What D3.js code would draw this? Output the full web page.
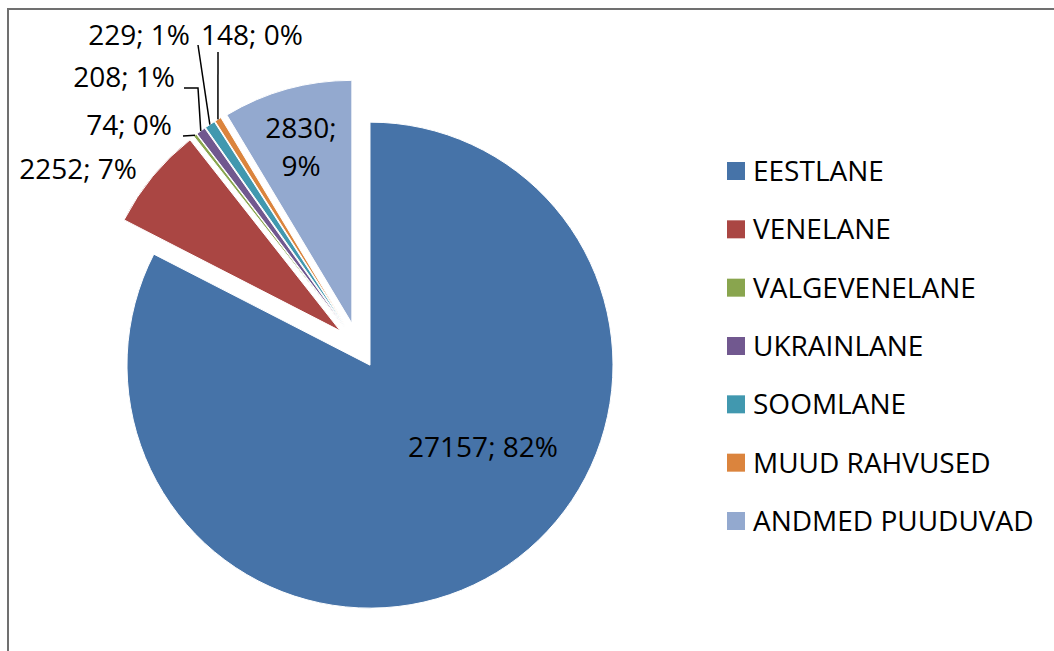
<!DOCTYPE html>
<html>
<head>
<meta charset="utf-8">
<script src="https://cdn.jsdelivr.net/npm/d3@7"></script>
<style>
  body { margin: 0; background: #fff; }
  svg { display: block; }
  text { font-family: "Open Sans", "Liberation Sans", sans-serif; fill: #000; }
</style>
</head>
<body>
<svg width="1054" height="651"></svg>
<script>
// data
var categories = ['EESTLANE', 'VENELANE', 'VALGEVENELANE', 'UKRAINLANE', 'SOOMLANE', 'MUUD RAHVUSED', 'ANDMED PUUDUVAD'];
var values = [27157, 2252, 74, 208, 229, 148, 2830];
var percents = ['82%', '7%', '0%', '1%', '1%', '0%', '9%'];
var colors = ['#4673a8', '#aa4643', '#89a54e', '#71588f', '#4198af', '#db843d', '#93a9cf'];

var svg = d3.select('svg');
svg.append('rect').attr('width', 1054).attr('height', 651).attr('fill', '#fff');

// frame (only top + left visible)
svg.append('path').attr('d', 'M8,660 L8,9 L1060,9')
  .attr('fill', 'none').attr('stroke', '#707070').attr('stroke-width', 2);

var cx = 358, cy = 345.5, radius = 243, explode = 23;

var pie = d3.pie().sort(null).value(function(d){ return d; });
var arcs = pie(values);
var arc = d3.arc().innerRadius(0).outerRadius(radius);

function offset(a, dist) {
  var m = (a.startAngle + a.endAngle) / 2;
  return [Math.sin(m) * dist, -Math.cos(m) * dist];
}

var g = svg.append('g').attr('transform', 'translate(' + cx + ',' + cy + ')');

g.selectAll('path.slice').data(arcs).enter().append('path')
  .attr('class', 'slice')
  .attr('d', arc)
  .attr('transform', function(d){ var o = offset(d, explode); return 'translate(' + o[0] + ',' + o[1] + ')'; })
  .attr('fill', function(d, i){ return colors[i]; })
  .attr('stroke', '#fff').attr('stroke-width', 1);

// labels: layout only (text anchor point + leader elbow), text comes from data
var labelLayout = [
  { x: 483, y: 457, anchor: 'middle' },
  { x: 137, y: 179, anchor: 'end' },
  { x: 172, y: 135, anchor: 'end', lead: [[183, 136]] },
  { x: 175, y: 87, anchor: 'end', lead: [[184, 88], [198, 88]] },
  { x: 190, y: 45, anchor: 'end', lead: [[198, 45]] },
  { x: 201, y: 45, anchor: 'start', lead: [[218, 52]] },
  { x: 301, y: 138, anchor: 'middle', split: true }
];

arcs.forEach(function(a, i) {
  var L = labelLayout[i];
  var txt = values[i] + '; ' + percents[i];
  if (L.split) {
    var t = svg.append('text').attr('x', L.x).attr('y', L.y).attr('text-anchor', L.anchor).attr('font-size', 28);
    t.append('tspan').attr('x', L.x).text(values[i] + ';');
    t.append('tspan').attr('x', L.x).attr('dy', 38).text(percents[i]);
  } else {
    svg.append('text').attr('x', L.x).attr('y', L.y).attr('text-anchor', L.anchor)
      .attr('font-size', 28).text(txt);
  }
  if (L.lead) {
    var o = offset(a, explode + radius);
    var pts = L.lead.concat([[cx + o[0], cy + o[1]]]);
    svg.append('path').attr('d', d3.line()(pts))
      .attr('fill', 'none').attr('stroke', '#000').attr('stroke-width', 1.5);
  }
});

// legend
var legY = d3.scalePoint().domain(categories).range([171, 521]);
var leg = svg.selectAll('g.leg').data(categories).enter().append('g')
  .attr('class', 'leg')
  .attr('transform', function(d){ return 'translate(727,' + legY(d) + ')'; });
leg.append('rect').attr('x', 0).attr('y', -9).attr('width', 18).attr('height', 18)
  .attr('fill', function(d, i){ return colors[i]; });
leg.append('text').attr('x', 26).attr('y', 10).attr('font-size', 28).text(function(d){ return d; });
</script>
</body>
</html>
